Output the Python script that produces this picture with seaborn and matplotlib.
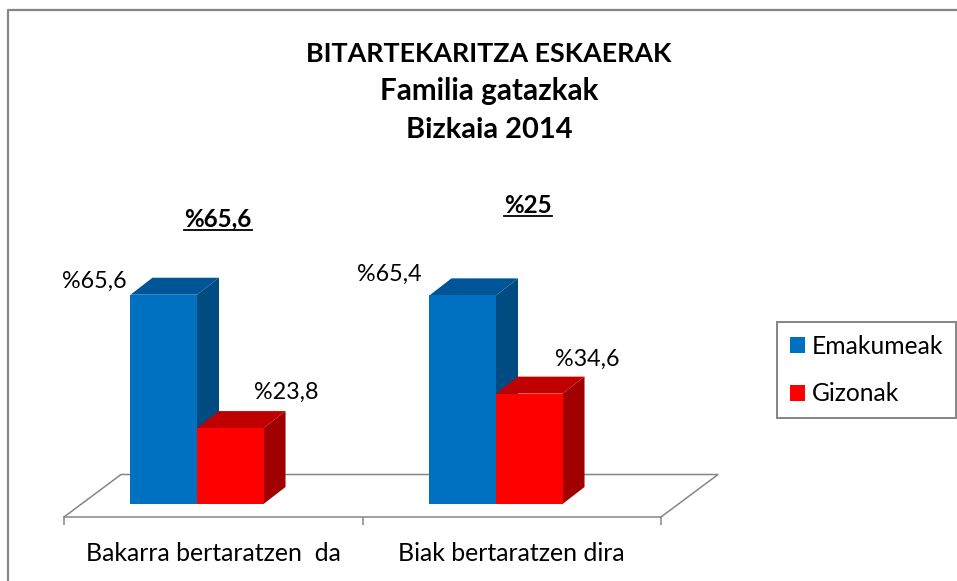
#!/usr/bin/env python3
import matplotlib.pyplot as plt
import pandas as pd
import seaborn as sns
from matplotlib.lines import Line2D
from matplotlib.patches import Polygon

l_category = ["Bakarra bertaratzen  da", "Biak bertaratzen dira"]
l_series = ["Emakumeak", "Gizonak"]
l_women = [65.6, 65.4]
l_men = [23.8, 34.6]
l_total = ["%65,6", "%25"]
l_title = ["BITARTEKARITZA ESKAERAK", "Familia gatazkak", "Bizkaia 2014"]

W, H = 957, 581
GRAY = "#868686"
FONT = "Lato"
FRONT = ["#0070C0", "#FF0000"]
TOP = ["#005596", "#C00000"]
SIDE = ["#004B82", "#A00000"]

plt.rcParams["font.family"] = [FONT, "DejaVu Sans"]


def px_x(x: float) -> float:
    return x / W


def px_y(y: float) -> float:
    return 1 - y / H


df = pd.DataFrame(
    {
        "category": l_category * 2,
        "series": [l_series[0]] * 2 + [l_series[1]] * 2,
        "value": l_women + l_men,
    }
)

fig = plt.figure(figsize=(W / 100, H / 100), dpi=100, facecolor="white")
ax = fig.add_axes([px_x(64), px_y(517), px_x(597), 502 / H])
ax.patch.set_alpha(0)

sns.barplot(
    data=df,
    x="category",
    y="value",
    hue="series",
    hue_order=l_series,
    palette=FRONT,
    width=0.445,
    gap=0,
    saturation=1,
    linewidth=0,
    ax=ax,
)

# pixel scales: 299 px per category, 3.19 px per percent, 0 sits 13 px above the axis line
px_cat = 299
px_pct = 3.19
ax.set_xlim(-133 / px_cat, 464 / px_cat)
ax.set_ylim(-13 / px_pct, (502 - 13) / px_pct)
depth_x = 22 / px_cat
depth_y = 17 / px_pct

for i_series, bars in enumerate(ax.containers):
    for bar in bars:
        x0, w, h = bar.get_x(), bar.get_width(), bar.get_height()
        bar.set_zorder(3 + 2 * i_series)
        side = [(x0 + w, 0), (x0 + w + depth_x, depth_y), (x0 + w + depth_x, h + depth_y), (x0 + w, h)]
        top = [(x0, h), (x0 + depth_x, h + depth_y), (x0 + w + depth_x, h + depth_y), (x0 + w, h)]
        ax.add_patch(Polygon(side, closed=True, fc=SIDE[i_series], lw=0, zorder=2 + 2 * i_series))
        ax.add_patch(Polygon(top, closed=True, fc=TOP[i_series], lw=0, zorder=2 + 2 * i_series))

# floor of the 3D box
x_left, x_right = ax.get_xlim()
y_front = ax.get_ylim()[0]
floor_x = 57 / px_cat
floor_y = 42.5 / px_pct
ax.plot(
    [x_left, x_left + floor_x, x_right + floor_x, x_right],
    [y_front, y_front + floor_y, y_front + floor_y, y_front],
    color=GRAY,
    lw=1.1,
    clip_on=False,
    zorder=1,
)

sns.despine(ax=ax, left=True)
ax.spines["bottom"].set_color(GRAY)
ax.spines["bottom"].set_linewidth(1.1)
ax.set_xlabel("")
ax.set_ylabel("")
ax.set_yticks([])
ax.set_xticks([x_left, (x_left + x_right) / 2, x_right])
ax.set_xticklabels([])
ax.tick_params(axis="x", which="major", length=6, width=1.1, color=GRAY)
ax.set_xticks([x_left + (x_right - x_left) / 4, x_left + 3 * (x_right - x_left) / 4], minor=True)
ax.set_xticklabels(l_category, minor=True, fontsize=17.9, color="black")
ax.tick_params(axis="x", which="minor", length=0, pad=18)

# value labels, offsets in pixels from the top centre of each bar
l_offset = [[(-69, 13), (-73, 21)], [(56, 36), (58, 34)]]
for i_series, bars in enumerate(ax.containers):
    for i_bar, bar in enumerate(bars):
        s_label = "%" + f"{bar.get_height():.1f}".replace(".", ",")
        dx, dy = l_offset[i_series][i_bar]
        ax.annotate(
            s_label,
            (bar.get_x() + bar.get_width() / 2, bar.get_height()),
            xytext=(dx * 0.72, dy * 0.72),
            textcoords="offset points",
            ha="center",
            va="center",
            fontsize=16.8,
            zorder=8,
        )

# the first title line runs narrower than the two below it in the original font
for s_line, y_c, size in zip(l_title, [54, 91, 130], [19.4, 21.3, 20.9]):
    fig.text(px_x(489), px_y(y_c), s_line, ha="center", va="center", fontsize=size, fontweight="bold")

# bold underlined totals above each group
for s_total, x_c, y_c in zip(l_total, [218, 528], [219, 205]):
    t = fig.text(px_x(x_c), px_y(y_c), s_total, ha="center", va="center",
                 fontsize=17.4, fontweight="bold")
    box = t.get_window_extent(fig.canvas.get_renderer())
    fig.add_artist(Line2D([box.x0 / W, box.x1 / W], [px_y(y_c + 11)] * 2, color="black", lw=1.3))

# outer chart border, open to the bottom like the crop
fig.add_artist(Line2D([px_x(8), px_x(8), px_x(957)], [px_y(581), px_y(10), px_y(10)], color=GRAY, lw=1.6))

leg = ax.legend(
    title=None,
    loc="upper left",
    bbox_to_anchor=(px_x(777), px_y(322)),
    bbox_transform=fig.transFigure,
    fontsize=17.7,
    frameon=True,
    fancybox=False,
    framealpha=1,
    edgecolor=GRAY,
    handlelength=0.6,
    handleheight=0.6,
    handletextpad=0.3,
    labelspacing=1.0,
    borderpad=0.52,
    borderaxespad=0,
)
leg.get_frame().set_linewidth(1.4)

fig.savefig("out.png", dpi=100)
